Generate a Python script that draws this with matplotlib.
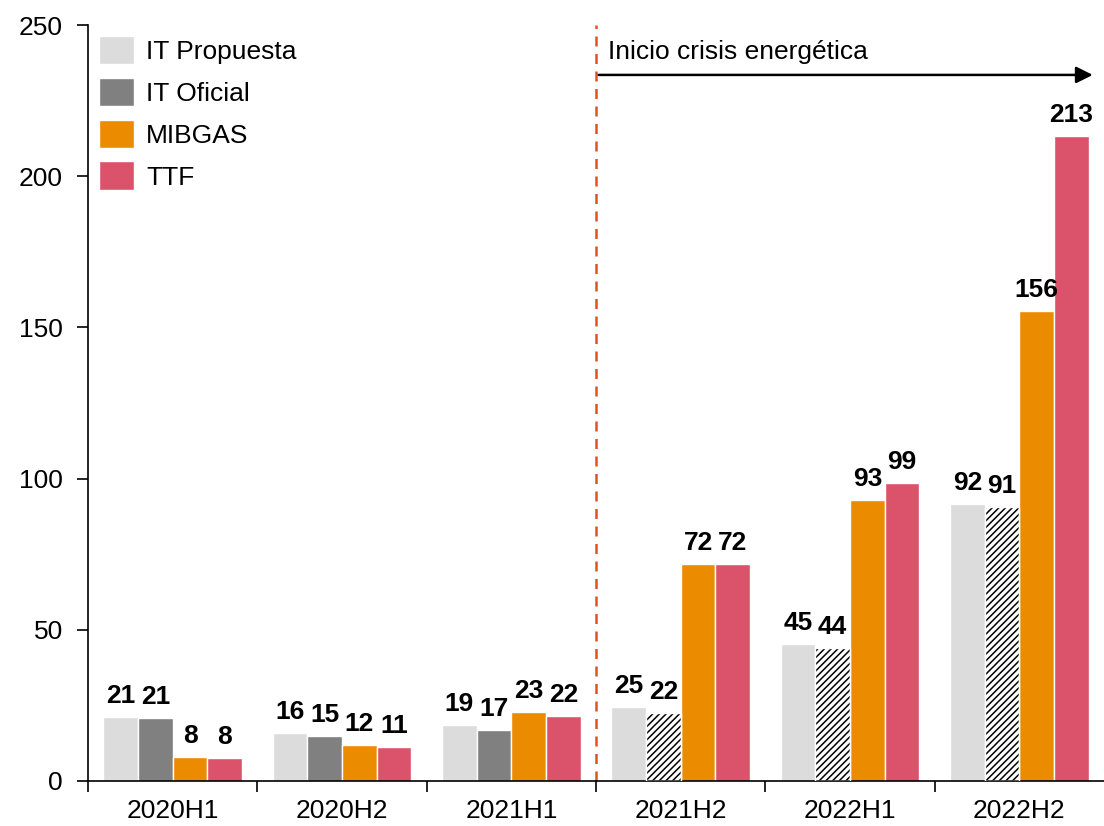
import numpy as np
import matplotlib
matplotlib.use("Agg")
import matplotlib.pyplot as plt

plt.rcParams["font.family"] = ["Liberation Sans", "DejaVu Sans"]
plt.rcParams["hatch.linewidth"] = 1.1

periods = ["2020H1", "2020H2", "2021H1", "2021H2", "2022H1", "2022H2"]
it_propuesta = [21.2, 15.9, 18.6, 24.6, 45.3, 91.6]
it_oficial = [20.8, 14.9, 16.9, 22.4, 44.0, 90.6]
mibgas = [7.9, 11.9, 22.8, 71.8, 92.9, 155.5]
ttf = [7.6, 11.2, 21.6, 71.6, 98.6, 213.3]
# IT Oficial is drawn hatched from this period on
hatch_from = 3

series = [
    ("IT Propuesta", it_propuesta, "#DCDCDC"),
    ("IT Oficial", it_oficial, "#808080"),
    ("MIBGAS", mibgas, "#EB8C00"),
    ("TTF", ttf, "#DB536A"),
]

fig = plt.figure(figsize=(11.04, 8.26), dpi=100)
ax = fig.add_axes([0.0797, 0.0545, 0.9203, 0.9152])

x = np.arange(len(periods))
w = 0.205
offsets = (np.arange(4) - 1.5) * w

for i, (name, vals, col) in enumerate(series):
    for j, v in enumerate(vals):
        if name == "IT Oficial" and j >= hatch_from:
            ax.bar(x[j] + offsets[i], v, w, color="white", edgecolor="black",
                   hatch="/////", linewidth=0, zorder=2)
            ax.bar(x[j] + offsets[i], v, w, color="none", edgecolor="white",
                   linewidth=1, zorder=3)
        else:
            ax.bar(x[j] + offsets[i], v, w, color=col, edgecolor="white",
                   linewidth=1, zorder=2,
                   label=name if j == 0 else None)
        ax.text(x[j] + offsets[i], v + 3, f"{round(v):.0f}", ha="center",
                va="bottom", fontsize=19, fontweight="bold")

ax.set_xlim(-0.5, 5.5)
ax.set_ylim(0, 250)
ax.set_yticks(range(0, 251, 50))
ax.set_xticks(x)
ax.set_xticklabels(periods)
ax.set_xticks(np.arange(-0.5, 5.0, 1.0), minor=True)
ax.tick_params(axis="x", which="major", length=0, labelsize=19, pad=13)
ax.tick_params(axis="x", which="minor", length=8, width=1.2, direction="out")
ax.tick_params(axis="y", length=8, width=1.2, labelsize=19, pad=10)

for s in ("top", "right"):
    ax.spines[s].set_visible(False)
ax.spines["left"].set_linewidth(1.2)
ax.spines["bottom"].set_linewidth(1.2)

# crisis start marker
ax.axvline(2.5, color="#E0531E", linestyle=(0, (4, 3)), linewidth=1.8, zorder=1)
ax.annotate("", xy=(5.45, 233.5), xytext=(2.5, 233.5),
            arrowprops=dict(arrowstyle="-|>", color="black", lw=1.8,
                            mutation_scale=25))
ax.text(2.57, 237, "Inicio crisis energética", fontsize=19,
        ha="left", va="bottom")

ax.legend(loc="upper left", frameon=False, fontsize=19,
          handlelength=1.35, handleheight=1.3, handletextpad=0.45,
          labelspacing=0.5, borderpad=0.2, borderaxespad=0.2,
          bbox_to_anchor=(0.0, 1.0))

fig.savefig("out.png", dpi=100)
